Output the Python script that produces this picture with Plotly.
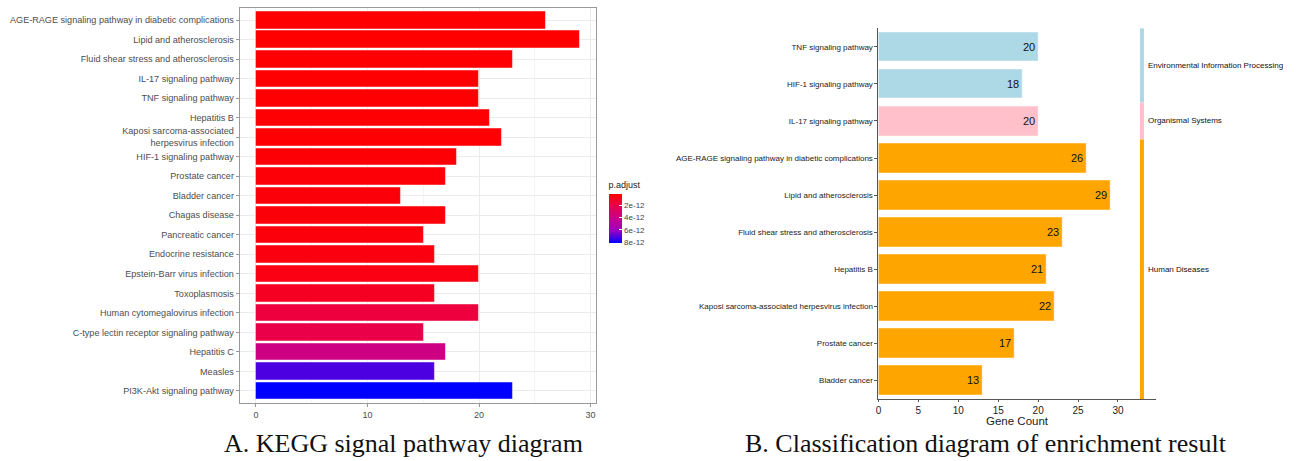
import plotly.graph_objects as go

# ---------------- Panel A data (KEGG) ----------------
kegg_terms = [
    "AGE-RAGE signaling pathway in diabetic complications",
    "Lipid and atherosclerosis",
    "Fluid shear stress and atherosclerosis",
    "IL-17 signaling pathway",
    "TNF signaling pathway",
    "Hepatitis B",
    "Kaposi sarcoma-associated herpesvirus infection",
    "HIF-1 signaling pathway",
    "Prostate cancer",
    "Bladder cancer",
    "Chagas disease",
    "Pancreatic cancer",
    "Endocrine resistance",
    "Epstein-Barr virus infection",
    "Toxoplasmosis",
    "Human cytomegalovirus infection",
    "C-type lectin receptor signaling pathway",
    "Hepatitis C",
    "Measles",
    "PI3K-Akt signaling pathway",
]
kegg_labels = [t if not t.startswith("Kaposi") else "Kaposi sarcoma-associated<br>herpesvirus infection" for t in kegg_terms]
kegg_counts = [26, 29, 23, 20, 20, 21, 22, 18, 17, 13, 17, 15, 16, 20, 16, 20, 15, 17, 16, 23]
kegg_padj_e12 = [0.04, 0.05, 0.08, 0.10, 0.10, 0.12, 0.14, 0.18, 0.22, 0.26,
                 0.30, 0.34, 0.40, 0.50, 0.90, 1.60, 1.90, 3.90, 7.10, 8.10]
kegg_padj = [v * 1e-12 for v in kegg_padj_e12]
cbar_ticks = [2e-12, 4e-12, 6e-12, 8e-12]
cbar_ticktext = ["2e-12", "4e-12", "6e-12", "8e-12"]

# ---------------- Panel B data (classification) ----------------
class_terms = [
    "TNF signaling pathway",
    "HIF-1 signaling pathway",
    "IL-17 signaling pathway",
    "AGE-RAGE signaling pathway in diabetic complications",
    "Lipid and atherosclerosis",
    "Fluid shear stress and atherosclerosis",
    "Hepatitis B",
    "Kaposi sarcoma-associated herpesvirus infection",
    "Prostate cancer",
    "Bladder cancer",
]
class_counts = [20, 18, 20, 26, 29, 23, 21, 22, 17, 13]
class_groups = [
    "Environmental Information Processing",
    "Environmental Information Processing",
    "Organismal Systems",
    "Human Diseases", "Human Diseases", "Human Diseases", "Human Diseases",
    "Human Diseases", "Human Diseases", "Human Diseases",
]
group_colors = {
    "Environmental Information Processing": "#ADD8E6",
    "Organismal Systems": "#FFC0CB",
    "Human Diseases": "#FFA500",
}

W, H = 1296, 461

# Lab-like blue->red gradient; colour values are negated p.adjust so that
# the colorbar reads small p (red) at the top like the reference.
colorscale = [
    [0.0, "rgb(0,0,255)"],
    [0.25, "rgb(154,0,195)"],
    [0.5, "rgb(202,0,136)"],
    [0.75, "rgb(232,0,79)"],
    [1.0, "rgb(255,0,0)"],
]
neg_padj = [-v for v in kegg_padj]

fig = go.Figure()

fig.add_trace(go.Bar(
    y=kegg_terms, x=kegg_counts, orientation="h", width=0.9,
    xaxis="x", yaxis="y",
    customdata=kegg_padj,
    hovertemplate="%{y}<br>Count: %{x}<br>p.adjust: %{customdata:.2e}<extra></extra>",
    marker=dict(
        color=neg_padj, colorscale=colorscale,
        cmin=min(neg_padj), cmax=max(neg_padj),
        line=dict(color="rgba(255,255,255,0.8)", width=0.6),
        colorbar=dict(
            title=dict(text="p.adjust", side="top", font=dict(size=9, color="#222")),
            x=607 / W, xanchor="left", y=1 - 210.5 / H, yanchor="middle",
            thickness=13, thicknessmode="pixels", len=64, lenmode="pixels",
            outlinewidth=0, tickvals=[-t for t in cbar_ticks], ticktext=cbar_ticktext,
            ticks="inside", ticklen=3, tickcolor="white",
            tickfont=dict(size=8, color="#444"), xpad=0, ypad=0,
        ),
    ),
    showlegend=False,
))

n = len(class_terms)
ypos = [n - 1 - i for i in range(n)]
fig.add_trace(go.Bar(
    y=ypos, x=class_counts, orientation="h", width=0.8,
    xaxis="x2", yaxis="y2",
    marker=dict(color=[group_colors[g] for g in class_groups],
                line=dict(color="rgba(255,255,255,0.8)", width=0.6)),
    text=[str(c) for c in class_counts], textposition="inside",
    insidetextanchor="end", textfont=dict(size=11, color="#111", family="Arial, Liberation Sans"),
    showlegend=False,
))

# group indicator lines + labels
seen = []
for g in class_groups:
    if g not in seen:
        seen.append(g)
for g in seen:
    idx = [ypos[i] for i, gg in enumerate(class_groups) if gg == g]
    top, bot = max(idx) + 0.5, min(idx) - 0.5
    fig.add_trace(go.Scatter(
        x=[33, 33], y=[bot, top], mode="lines", xaxis="x2", yaxis="y2",
        line=dict(color=group_colors[g], width=4), showlegend=False, hoverinfo="skip",
    ))
    fig.add_annotation(
        x=33.5, y=(top + bot) / 2, xref="x2", yref="y2", text=g, showarrow=False,
        xanchor="left", yanchor="middle", font=dict(size=8, color="#111"),
    )

fig.update_layout(
    width=W, height=H, margin=dict(l=0, r=0, t=0, b=0),
    paper_bgcolor="white", plot_bgcolor="white",
    font=dict(family="Liberation Sans, Arial", color="#333"),
    bargap=0,
    xaxis=dict(
        domain=[237.3 / W, 594 / W], range=[-1.45, 30.45],
        tickvals=[0, 10, 20, 30], showgrid=True, gridcolor="#ebebeb", gridwidth=1,
        minor=dict(dtick=5, tick0=0, showgrid=True, gridcolor="#f4f4f4", gridwidth=0.6),
        showline=True, mirror=True, linecolor="#999", linewidth=1,
        ticks="outside", ticklen=3, tickcolor="#999",
        tickfont=dict(size=9, color="#4d4d4d"), zeroline=False, anchor="y",
    ),
    yaxis=dict(
        domain=[1 - 402.7 / H, 1 - 8.3 / H], type="category",
        categoryorder="array", categoryarray=kegg_terms[::-1],
        range=[-0.6, len(kegg_terms) - 0.4],
        tickvals=kegg_terms, ticktext=kegg_labels,
        showgrid=True, gridcolor="#ebebeb",
        showline=True, mirror=True, linecolor="#999", linewidth=1,
        ticks="outside", ticklen=3, tickcolor="#999",
        tickfont=dict(size=9.1, color="#4d4d4d"), anchor="x",
    ),
    xaxis2=dict(
        domain=[877.5 / W, 1156 / W], range=[0, 34.8],
        tickvals=[0, 5, 10, 15, 20, 25, 30], showgrid=False, zeroline=False,
        showline=True, linecolor="#555", linewidth=1,
        ticks="outside", ticklen=2, tickcolor="#555",
        tickfont=dict(size=10, color="#222"),
        anchor="y2",
    ),
    yaxis2=dict(
        domain=[1 - 399 / H, 1 - 28.3 / H], range=[-0.5, n - 0.5],
        tickvals=ypos, ticktext=class_terms, showgrid=False, zeroline=False,
        showline=True, linecolor="#555", linewidth=1,
        ticks="outside", ticklen=3, tickcolor="#555",
        tickfont=dict(size=8, color="#222"), anchor="x2",
    ),
)

# x-axis title of panel B (placed as annotation to sit tight under ticks)
fig.add_annotation(
    x=1017 / W, y=1 - 414 / H, xref="paper", yref="paper",
    text="Gene Count", showarrow=False, xanchor="center", yanchor="top",
    font=dict(size=11.5, color="#222"), borderpad=0,
)

fig.add_annotation(
    x=401 / W, y=0.004, xref="paper", yref="paper",
    text="A. KEGG signal pathway diagram", showarrow=False,
    xanchor="center", yanchor="bottom", borderpad=0,
    font=dict(family="Liberation Serif, Times New Roman", size=26, color="#111"),
)
fig.add_annotation(
    x=985 / W, y=0.004, xref="paper", yref="paper",
    text="B. Classification diagram of enrichment result", showarrow=False,
    xanchor="center", yanchor="bottom", borderpad=0,
    font=dict(family="Liberation Serif, Times New Roman", size=26, color="#111"),
)

fig.write_html("out.html", config={"displayModeBar": False},
               post_script="document.body.style.margin='0';")
